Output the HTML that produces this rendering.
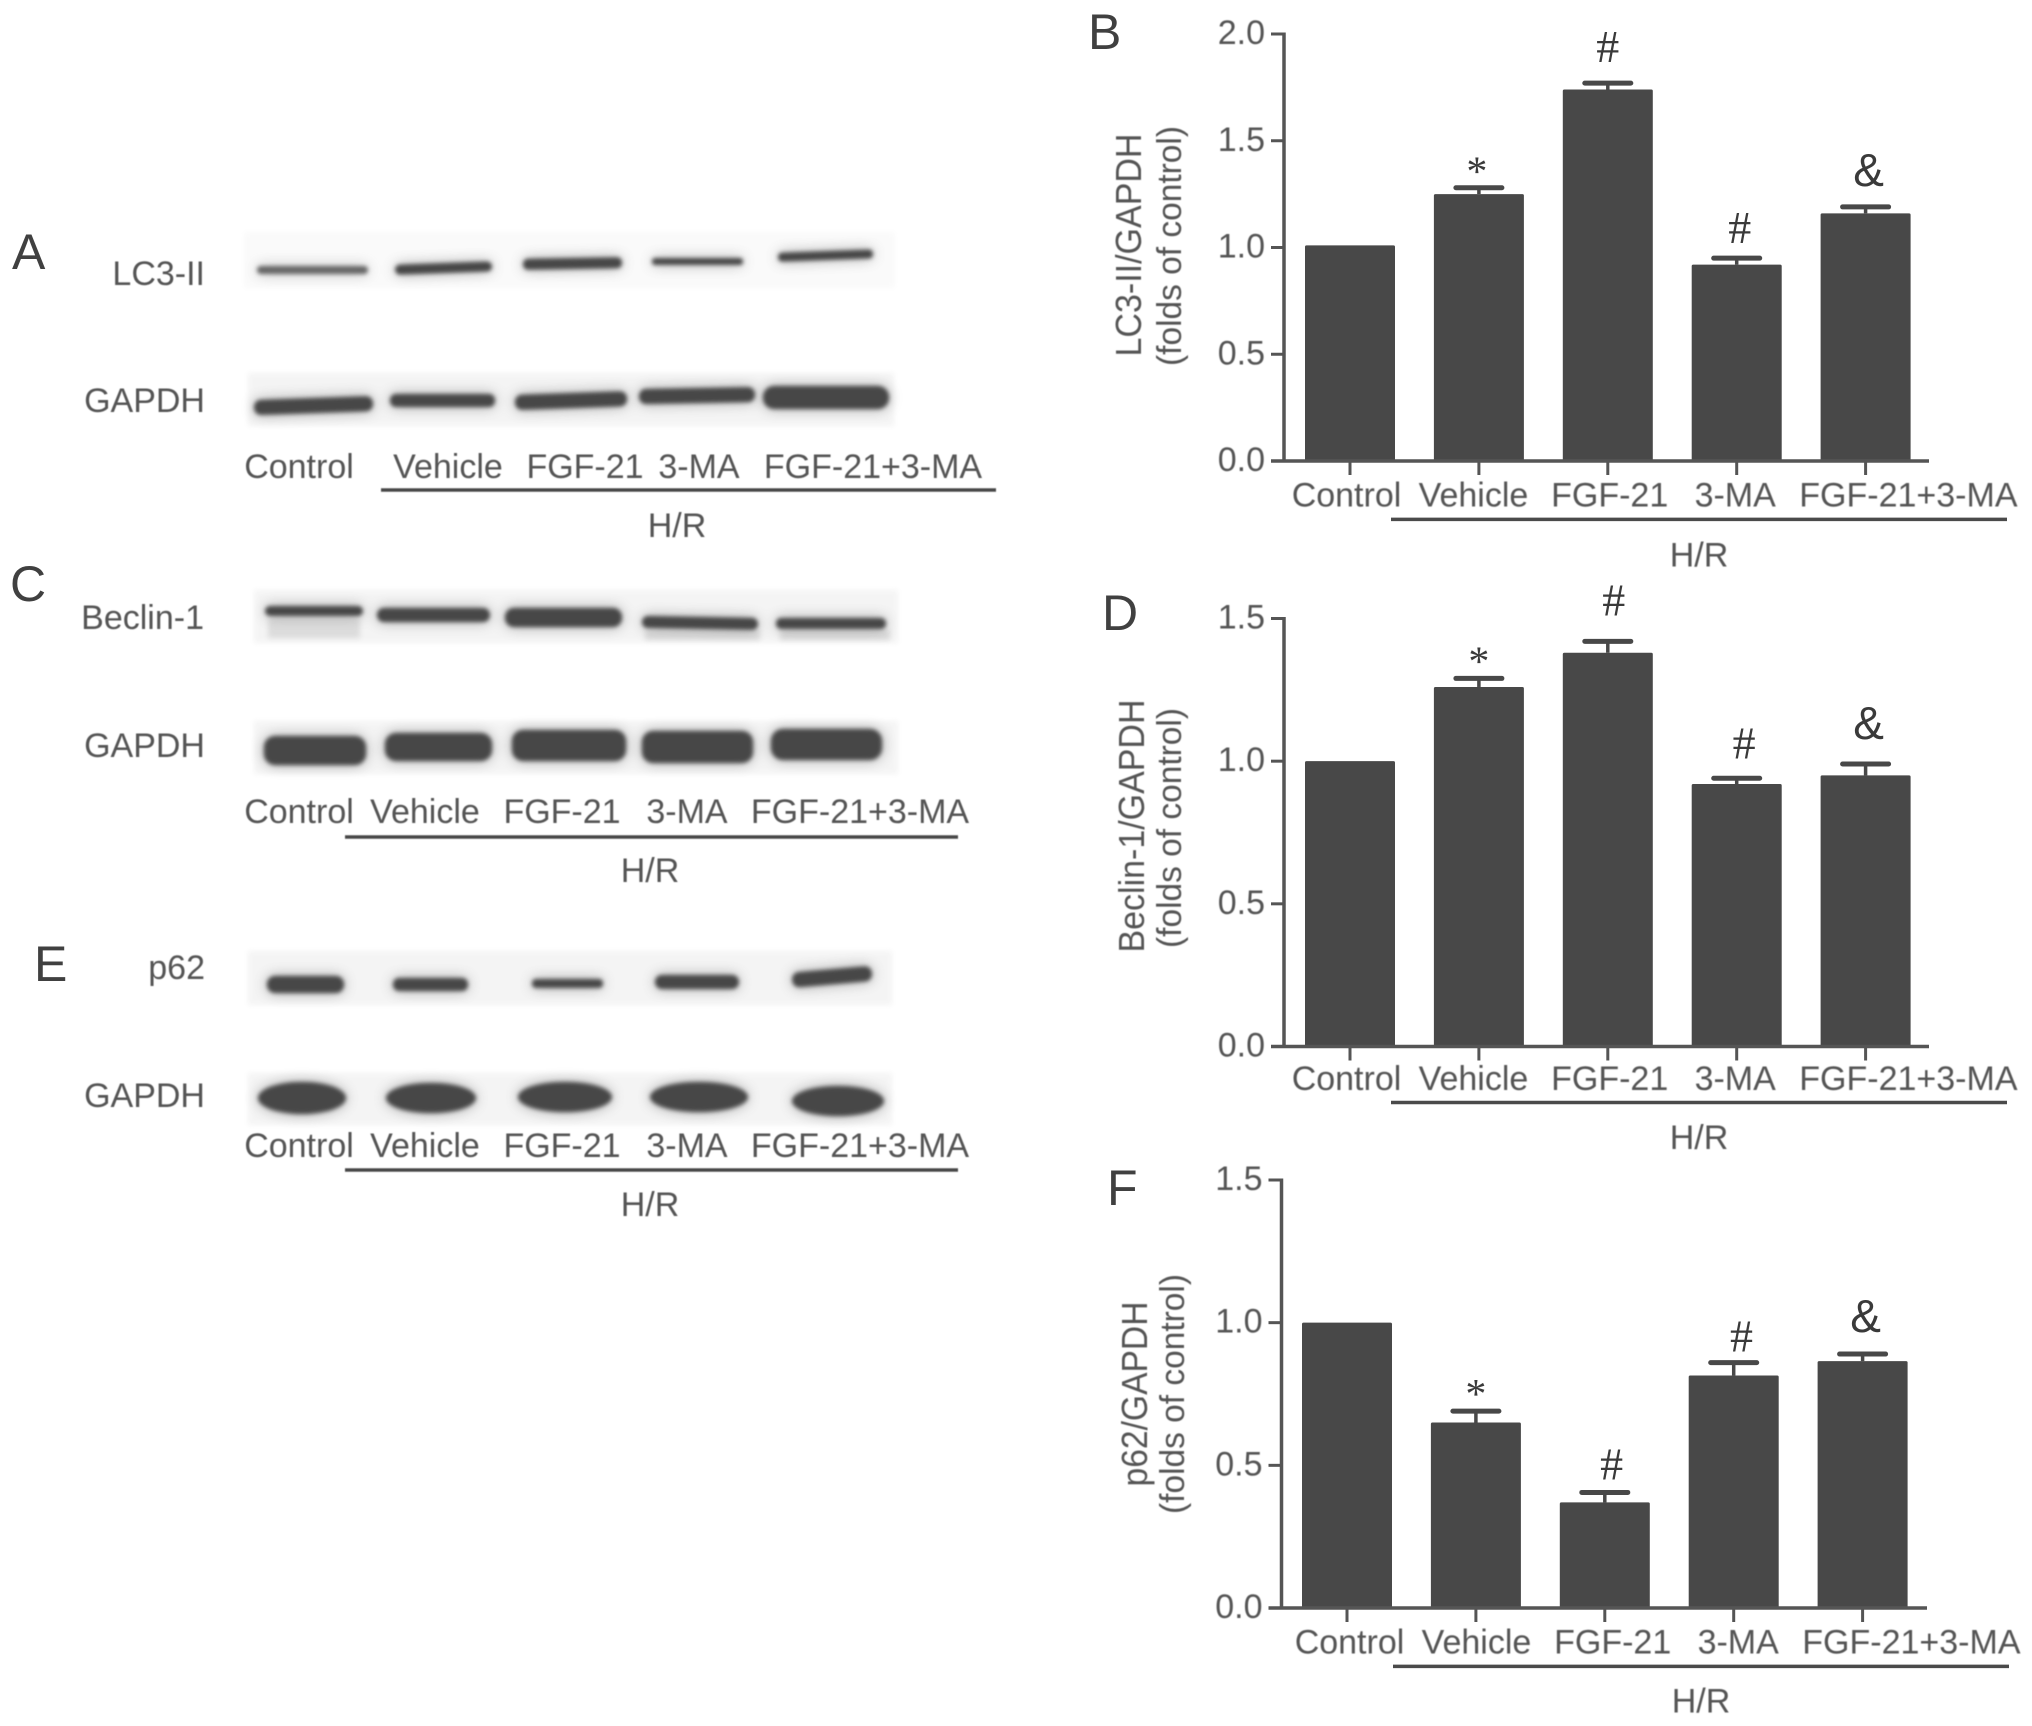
<!DOCTYPE html>
<html lang="en">
<head>
<meta charset="utf-8">
<title>Western blot panels and bar charts</title>
<style>
html,body{margin:0;padding:0;background:#fff;}
svg{display:block;}
text{font-family:"Liberation Sans",sans-serif;}
.lbl{font-size:34px;fill:#555;}
.letter{font-size:50px;fill:#404040;}
.ln{stroke:#4a4a4a;stroke-width:3.5;fill:none;}
.bg{fill:#f4f4f4;}
.bgl{fill:#fafafa;}
.faint{fill:#dcdcdc;}
.d{fill:#474747;}
.m{fill:#666;}
</style>
</head>
<body>
<svg id="figure" xmlns="http://www.w3.org/2000/svg" width="2032" height="1726" viewBox="0 0 2032 1726">
<defs>
<filter id="b3" x="-20%" y="-100%" width="140%" height="300%"><feGaussianBlur stdDeviation="2.6"/></filter>
<filter id="b2" x="-10%" y="-60%" width="120%" height="220%" color-interpolation-filters="sRGB">
  <feGaussianBlur in="SourceGraphic" stdDeviation="7" result="wide"/>
  <feComponentTransfer in="wide" result="halo"><feFuncA type="linear" slope="0.45"/></feComponentTransfer>
  <feGaussianBlur in="SourceGraphic" stdDeviation="2.2" result="core"/>
  <feMerge><feMergeNode in="halo"/><feMergeNode in="core"/></feMerge>
</filter>
<filter id="t" x="-5%" y="-20%" width="110%" height="140%"><feGaussianBlur stdDeviation="0.6"/></filter>
</defs>

<g id="panel-a">
<text class="letter" x="12" y="269">A</text>
<rect class="bgl" x="244" y="232" width="651" height="56" filter="url(#b3)"/>
<g filter="url(#b2)">
<rect class="m" x="257" y="266" width="111" height="8" rx="4"/>
<rect class="d" x="395" y="263" width="97" height="10" rx="5" transform="rotate(-2 445 267)"/>
<rect class="d" x="523" y="258" width="99" height="11" rx="5" transform="rotate(-1 573 263)"/>
<rect class="d" x="652" y="258" width="91" height="7" rx="3"/>
<rect class="d" x="778" y="251" width="95" height="9" rx="4" transform="rotate(-2 827 255)"/>
</g>
<text class="lbl" filter="url(#t)" x="205" y="285" text-anchor="end">LC3-II</text>
<rect class="bg" x="248" y="373" width="646" height="53" filter="url(#b3)"/>
<g filter="url(#b2)">
<rect class="d" x="254" y="398" width="119" height="15" rx="7" transform="rotate(-2 315 405)"/>
<rect class="d" x="390" y="394" width="105" height="13" rx="6"/>
<rect class="d" x="515" y="393" width="112" height="15" rx="7" transform="rotate(-2 573 400)"/>
<rect class="d" x="639" y="388" width="116" height="15" rx="7" transform="rotate(-1 700 395)"/>
<rect class="d" x="763" y="386" width="126" height="23" rx="11"/>
</g>
<text class="lbl" filter="url(#t)" x="205" y="412" text-anchor="end">GAPDH</text>
<g filter="url(#t)">
<text class="lbl" x="299" y="478" text-anchor="middle">Control</text>
<text class="lbl" x="448" y="478" text-anchor="middle">Vehicle</text>
<text class="lbl" x="585" y="478" text-anchor="middle">FGF-21</text>
<text class="lbl" x="699" y="478" text-anchor="middle">3-MA</text>
<text class="lbl" x="873" y="478" text-anchor="middle">FGF-21+3-MA</text>
<line class="ln" x1="381" y1="490" x2="996" y2="490"/>
<text class="lbl" x="677" y="537" text-anchor="middle">H/R</text>
</g>
</g>

<g id="panel-c">
<text class="letter" x="10" y="601">C</text>
<rect class="bg" x="254" y="590" width="644" height="53" filter="url(#b3)"/>
<g filter="url(#b3)">
<rect class="faint" x="268" y="618" width="92" height="20"/>
<rect class="faint" x="645" y="630" width="115" height="10"/>
<rect class="faint" x="780" y="630" width="110" height="10"/>
</g>
<g filter="url(#b2)">
<rect class="d" x="265" y="606" width="98" height="10" rx="5"/>
<rect class="d" x="377" y="608" width="113" height="14" rx="7"/>
<rect class="d" x="505" y="608" width="117" height="19" rx="9"/>
<rect class="d" x="642" y="617" width="116" height="12" rx="6" transform="rotate(1 702 623)"/>
<rect class="d" x="776" y="618" width="110" height="11" rx="5"/>
</g>
<text class="lbl" filter="url(#t)" x="204" y="629" text-anchor="end">Beclin-1</text>
<rect class="bg" x="254" y="721" width="644" height="53" filter="url(#b3)"/>
<g filter="url(#b2)">
<rect class="d" x="264" y="736" width="102" height="29" rx="11"/>
<rect class="d" x="385" y="733" width="107" height="28" rx="11"/>
<rect class="d" x="512" y="730" width="114" height="31" rx="11"/>
<rect class="d" x="642" y="731" width="111" height="32" rx="11"/>
<rect class="d" x="771" y="729" width="111" height="31" rx="12"/>
</g>
<text class="lbl" filter="url(#t)" x="205" y="757" text-anchor="end">GAPDH</text>
<g filter="url(#t)">
<text class="lbl" x="299" y="823" text-anchor="middle">Control</text>
<text class="lbl" x="425" y="823" text-anchor="middle">Vehicle</text>
<text class="lbl" x="562" y="823" text-anchor="middle">FGF-21</text>
<text class="lbl" x="687" y="823" text-anchor="middle">3-MA</text>
<text class="lbl" x="860" y="823" text-anchor="middle">FGF-21+3-MA</text>
<line class="ln" x1="345" y1="837" x2="958" y2="837"/>
<text class="lbl" x="650" y="882" text-anchor="middle">H/R</text>
</g>
</g>

<g id="panel-e">
<text class="letter" x="34" y="981">E</text>
<rect class="bg" x="248" y="951" width="644" height="54" filter="url(#b3)"/>
<g filter="url(#b2)">
<rect class="d" x="267" y="976" width="77" height="17" rx="8"/>
<rect class="d" x="393" y="978" width="75" height="13" rx="6"/>
<rect class="d" x="532" y="979" width="71" height="9" rx="4"/>
<rect class="d" x="655" y="975" width="84" height="14" rx="7"/>
<rect class="d" x="792" y="969" width="80" height="15" rx="7" transform="rotate(-5 835 976)"/>
</g>
<text class="lbl" filter="url(#t)" x="205" y="979" text-anchor="end">p62</text>
<rect class="bg" x="248" y="1073" width="644" height="52" filter="url(#b3)"/>
<g filter="url(#b2)">
<ellipse class="d" cx="302" cy="1098" rx="44" ry="16"/>
<ellipse class="d" cx="431" cy="1098" rx="45" ry="15"/>
<ellipse class="d" cx="565" cy="1097" rx="47" ry="15"/>
<ellipse class="d" cx="699" cy="1097" rx="49" ry="15"/>
<ellipse class="d" cx="838" cy="1101" rx="46" ry="15"/>
</g>
<text class="lbl" filter="url(#t)" x="205" y="1107" text-anchor="end">GAPDH</text>
<g filter="url(#t)">
<text class="lbl" x="299" y="1157" text-anchor="middle">Control</text>
<text class="lbl" x="425" y="1157" text-anchor="middle">Vehicle</text>
<text class="lbl" x="562" y="1157" text-anchor="middle">FGF-21</text>
<text class="lbl" x="687" y="1157" text-anchor="middle">3-MA</text>
<text class="lbl" x="860" y="1157" text-anchor="middle">FGF-21+3-MA</text>
<line class="ln" x1="345" y1="1170" x2="958" y2="1170"/>
<text class="lbl" x="650" y="1216" text-anchor="middle">H/R</text>
</g>
</g>

<text class="letter" x="1088" y="49">B</text>
<text class="letter" x="1102" y="630">D</text>
<text class="letter" x="1107" y="1205">F</text>
</svg>

<script>
const categories = ['Control', 'Vehicle', 'FGF-21', '3-MA', 'FGF-21+3-MA'];
const significance = ['', '*', '#', '#', '&'];

const ticksB = ['0.0', '0.5', '1.0', '1.5', '2.0'];
const valuesB = [1.01, 1.25, 1.74, 0.92, 1.16];
const errorTopsB = [null, 1.28, 1.77, 0.95, 1.19];

const ticksD = ['0.0', '0.5', '1.0', '1.5'];
const valuesD = [1.0, 1.26, 1.38, 0.92, 0.95];
const errorTopsD = [null, 1.29, 1.42, 0.94, 0.99];

const ticksF = ['0.0', '0.5', '1.0', '1.5'];
const valuesF = [1.0, 0.65, 0.37, 0.815, 0.865];
const errorTopsF = [null, 0.69, 0.405, 0.86, 0.89];

const NS = 'http://www.w3.org/2000/svg';
const figure = document.getElementById('figure');

function mk(parent, tag, attrs, content) {
  const node = document.createElementNS(NS, tag);
  for (const k in attrs) node.setAttribute(k, attrs[k]);
  if (content !== undefined) node.textContent = content;
  parent.appendChild(node);
  return node;
}

function symbolStyle(s) {
  if (s === '&') return 'font-family:"Liberation Sans",sans-serif;font-size:46px';
  if (s === '*') return 'font-family:"Liberation Serif",serif;font-size:42px';
  return 'font-family:"Liberation Serif",serif;font-size:46px';
}

function drawChart(c) {
  const xBand = i => c.x0 + i * c.step;
  const yScale = v => c.yBase - (v / c.yMax) * (c.yBase - c.yTop);

  const g = mk(figure, 'g', {});
  
  

  c.values.forEach((v, i) => {
    const slug = c.categories[i].toLowerCase();
    const topY = yScale(v);
    const bar = mk(g, 'rect', {x: xBand(i) - c.barW / 2, y: topY, width: c.barW, height: c.yBase - topY, fill: '#484848', rx: 1.5});
    
    
    const et = c.errorTops[i];
    if (et !== null) {
      const ey = yScale(et);
      const stem = mk(g, 'line', {x1: xBand(i), x2: xBand(i), y1: topY, y2: ey, stroke: '#484848', 'stroke-width': 3.5});
      
      
      const cap = mk(g, 'line', {x1: xBand(i) - 23, x2: xBand(i) + 23, y1: ey, y2: ey, stroke: '#484848', 'stroke-width': 5, 'stroke-linecap': 'round'});
      
      
      const sym = mk(g, 'text', {x: xBand(i) + c.symbolDx[i], y: ey - c.symbolGap[i], 'text-anchor': 'middle', fill: '#3a3a3a', style: symbolStyle(c.significance[i])}, c.significance[i]);
      
      
    }
    const tick = mk(g, 'line', {x1: xBand(i), x2: xBand(i), y1: c.yBase, y2: c.yBase + 14, stroke: '#555', 'stroke-width': 3});
    
    
    const lab = mk(g, 'text', {x: xBand(i) + c.labelDx[i], y: c.yBase + c.labelGap, 'text-anchor': 'middle', class: 'lbl', filter: 'url(#t)'}, c.categories[i]);
    
    
  });

  c.ticks.forEach(t => {
    const y = yScale(parseFloat(t));
    const tick = mk(g, 'line', {x1: c.xAxis - 13, x2: c.xAxis, y1: y, y2: y, stroke: '#555', 'stroke-width': 3});
    
    
    const lab = mk(g, 'text', {x: c.xAxis - 19, y: y + 10, 'text-anchor': 'end', class: 'lbl', filter: 'url(#t)'}, t);
    
    
  });

  const yAxisLine = mk(g, 'line', {x1: c.xAxis, x2: c.xAxis, y1: c.yTop - 1.5, y2: c.yBase + 1.5, stroke: '#555', 'stroke-width': 3.5});
  
  
  const xAxisLine = mk(g, 'line', {x1: c.xAxis - 13, x2: c.xEnd, y1: c.yBase, y2: c.yBase, stroke: '#555', 'stroke-width': 3.5});
  
  

  const t1 = mk(g, 'text', {transform: 'translate(' + c.title1X + ',' + c.title1Y + ') rotate(-90)', 'text-anchor': 'middle', class: 'lbl', textLength: c.title1Len, lengthAdjust: 'spacingAndGlyphs', style: 'font-size:36px', filter: 'url(#t)'}, c.title1);
  
  
  const t2 = mk(g, 'text', {transform: 'translate(' + c.title2X + ',' + c.title2Y + ') rotate(-90)', 'text-anchor': 'middle', class: 'lbl', textLength: 240, lengthAdjust: 'spacingAndGlyphs', style: 'font-size:34px', filter: 'url(#t)'}, '(folds of control)');
  
  

  const br = mk(g, 'line', {x1: c.bracket[0], x2: c.bracket[1], y1: c.yBase + c.bracketGap, y2: c.yBase + c.bracketGap, class: 'ln'});
  
  
  const hr = mk(g, 'text', {x: c.hrX, y: c.yBase + c.hrGap, 'text-anchor': 'middle', class: 'lbl', filter: 'url(#t)'}, 'H/R');
  
  
}

drawChart({
  id: 'chart-b', categories, significance, values: valuesB, errorTops: errorTopsB, ticks: ticksB,
  x0: 1350, step: 128.9, barW: 90, xAxis: 1284, xEnd: 1929, yBase: 461, yTop: 34, yMax: 2,
  symbolDx: [0, -2, 0, 3, 3], symbolGap: [0, 2, 21, 15, 21],
  labelDx: [-3.5, -5.4, 1.9, -1.5, 42.8], labelGap: 45.4, bracket: [1391, 2007], bracketGap: 58.4, hrX: 1699, hrGap: 105.4,
  title1: 'LC3-II/GAPDH', title1X: 1141, title1Y: 245, title1Len: 223, title2X: 1181, title2Y: 246
});
drawChart({
  id: 'chart-d', categories, significance, values: valuesD, errorTops: errorTopsD, ticks: ticksD,
  x0: 1350, step: 128.9, barW: 90, xAxis: 1284, xEnd: 1929, yBase: 1046.5, yTop: 618.5, yMax: 1.5,
  symbolDx: [0, 0, 6, 7.4, 3], symbolGap: [0, 3, 26, 20, 25],
  labelDx: [-3.5, -5.4, 1.9, -1.5, 42.8], labelGap: 43.5, bracket: [1391, 2007], bracketGap: 56, hrX: 1699, hrGap: 102.3,
  title1: 'Beclin-1/GAPDH', title1X: 1144, title1Y: 826, title1Len: 253, title2X: 1181, title2Y: 828
});
drawChart({
  id: 'chart-f', categories, significance, values: valuesF, errorTops: errorTopsF, ticks: ticksF,
  x0: 1347, step: 128.9, barW: 90, xAxis: 1281.5, xEnd: 1927, yBase: 1608, yTop: 1180, yMax: 1.5,
  symbolDx: [0, 0, 6.8, 7.8, 3], symbolGap: [0, 3, 13, 11, 22],
  labelDx: [2.5, 0.6, 7.9, 4.5, 48.8], labelGap: 45.4, bracket: [1393, 2009], bracketGap: 58.4, hrX: 1701, hrGap: 104.4,
  title1: 'p62/GAPDH', title1X: 1147, title1Y: 1394, title1Len: 185, title2X: 1184, title2Y: 1394
});
</script>
</body>
</html>
